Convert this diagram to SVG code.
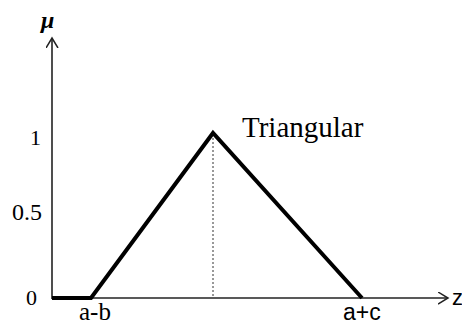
<svg xmlns="http://www.w3.org/2000/svg" width="462" height="324" viewBox="0 0 462 324">
<style>
.t{font-family:"Liberation Serif","Times New Roman",serif;fill:#000}
.s{font-family:"Liberation Sans",Arial,sans-serif;fill:#000}
.ax{stroke:#222;stroke-width:1.6;fill:none}
</style>
<defs>
<marker id="ah" markerWidth="14" markerHeight="14" refX="10" refY="6" orient="auto" markerUnits="userSpaceOnUse">
<path d="M0,0 L10,6 L0,12" fill="none" stroke="#222" stroke-width="1.5"/>
</marker>
</defs>
<rect width="462" height="324" fill="#fff"/>
<g id="connectors">
<line id="yaxis" class="ax" x1="52" y1="299" x2="52" y2="38" marker-end="url(#ah)"/>
<line id="xaxis" class="ax" x1="52" y1="298" x2="448" y2="298" marker-end="url(#ah)"/>
<line id="dash" x1="213" y1="134" x2="213" y2="298" stroke="#333" stroke-width="1" stroke-dasharray="2,2"/>
<polyline id="tri" points="52,298 91,298 213,133 362,298" fill="none" stroke="#000" stroke-width="4" stroke-linejoin="miter"/>
</g>
<g id="labels">
<text class="t" x="41" y="28" font-style="italic" font-weight="bold" font-size="24">μ</text>
<text class="t" x="30" y="145" font-size="22">1</text>
<text class="t" x="12" y="220" font-size="24">0.5</text>
<text class="t" x="26" y="305" font-size="22">0</text>
<text class="t" x="79" y="320" font-size="25">a-b</text>
<text class="s" x="343" y="320" font-size="23">a+c</text>
<text class="s" x="452" y="305" font-size="22">z</text>
<text class="t" x="242" y="137" font-size="29">Triangular</text>
</g>
</svg>
